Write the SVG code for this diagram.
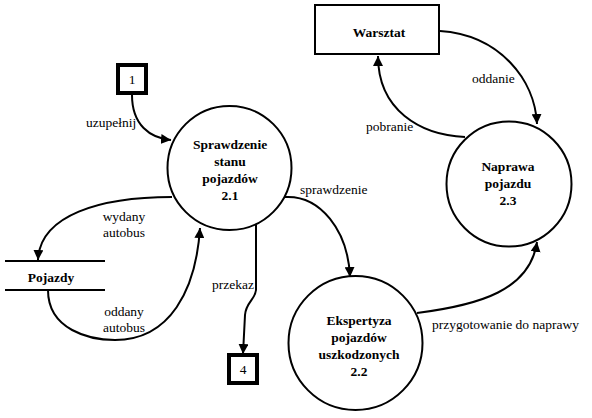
<svg xmlns="http://www.w3.org/2000/svg" width="592" height="418" viewBox="0 0 592 418" font-family="Liberation Serif, Times New Roman, serif" font-size="13.5">
<defs>
<marker id="arr" viewBox="0 0 10 10" refX="10" refY="5" markerWidth="10" markerHeight="10" markerUnits="userSpaceOnUse" orient="auto">
<path d="M0,0 L10,5 L0,10 Z" fill="#000"/>
</marker>
</defs>
<style>
.proc{fill:#fff;stroke:#000;stroke-width:2}
.term{fill:#fff;stroke:#000;stroke-width:2}
.term4{fill:#fff;stroke:#000;stroke-width:4}
.ds{stroke:#000;stroke-width:2}
.c{fill:none;stroke:#000;stroke-width:2;marker-end:url(#arr)}
.n{font-weight:bold;text-anchor:middle}
.lm{text-anchor:middle}
</style>
<rect width="592" height="418" fill="#fff"/>
<g id="connectors">
<path class="c" d="M132,95 C132,125 150,138 171,140"/>
<path class="c" d="M172,197 C100,197 40,215 38,260"/>
<path class="c" d="M48,290 C48,330 90,340 115,340 C170,340 196,290 200,228"/>
<path class="c" d="M256,225 L256,290 C255,300 246,302 245,315 L243,354"/>
<path class="c" d="M285,197 C320,195 348,230 350,277"/>
<path class="c" d="M417,313 C480,305 530,290 537,242"/>
<path class="c" d="M440,31 C500,35 535,80 537,124"/>
<path class="c" d="M465,137 C420,135 378,110 378,56"/>
<text x="86" y="127">uzupełnij</text>
<text class="lm" x="124" y="221">wydany</text>
<text class="lm" x="124" y="237">autobus</text>
<text class="lm" x="124" y="316">oddany</text>
<text class="lm" x="124" y="332">autobus</text>
<text x="212" y="289">przekaz</text>
<text x="300" y="194">sprawdzenie</text>
<text x="432" y="329">przygotowanie do naprawy</text>
<text x="472" y="83">oddanie</text>
<text x="366" y="131">pobranie</text>
</g>
<g id="p21">
<circle class="proc" cx="229.5" cy="168" r="62"/>
<text class="n" x="230" y="149">Sprawdzenie</text>
<text class="n" x="230" y="166">stanu</text>
<text class="n" x="230" y="183">pojazdów</text>
<text class="n" x="230" y="200">2.1</text>
</g>
<g id="p22">
<circle class="proc" cx="355.5" cy="343" r="67"/>
<text class="n" x="359" y="325">Ekspertyza</text>
<text class="n" x="359" y="342">pojazdów</text>
<text class="n" x="359" y="359">uszkodzonych</text>
<text class="n" x="359" y="376">2.2</text>
</g>
<g id="p23">
<circle class="proc" cx="509" cy="184" r="62.5"/>
<text class="n" x="508" y="171">Naprawa</text>
<text class="n" x="508" y="188">pojazdu</text>
<text class="n" x="508" y="205">2.3</text>
</g>
<g id="warsztat">
<rect class="term" x="315" y="5" width="124" height="49"/>
<text class="n" x="379" y="37">Warsztat</text>
</g>
<g id="t1">
<rect class="term4" x="118" y="65" width="28" height="28"/>
<text class="lm" x="132" y="84">1</text>
</g>
<g id="t4">
<rect class="term4" x="229" y="355" width="28" height="28"/>
<text class="lm" x="243" y="374">4</text>
</g>
<g id="pojazdy">
<line class="ds" x1="5" y1="261" x2="105" y2="261"/>
<line class="ds" x1="5" y1="290" x2="105" y2="290"/>
<text class="n" x="51" y="282">Pojazdy</text>
</g>
</svg>
